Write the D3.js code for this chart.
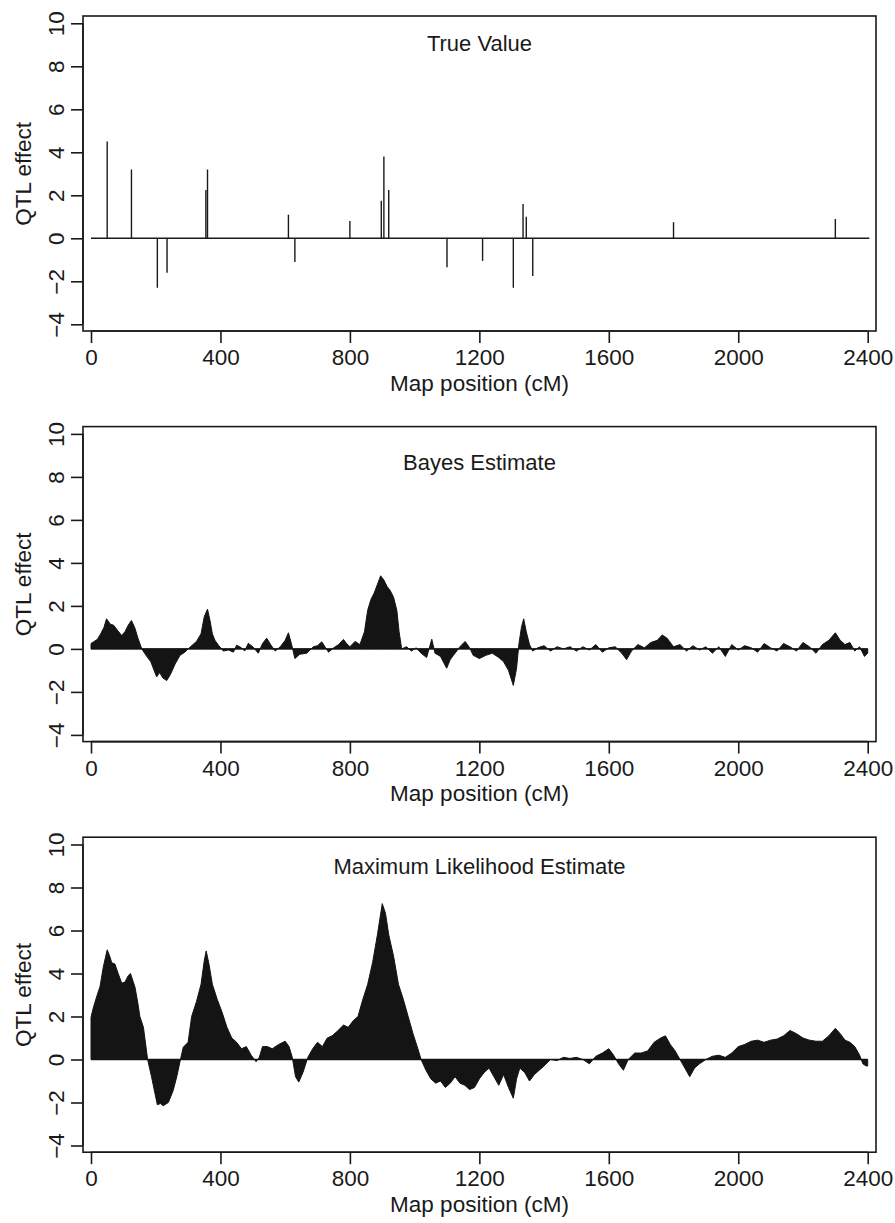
<!DOCTYPE html>
<html>
<head>
<meta charset="utf-8">
<script src="https://cdn.jsdelivr.net/npm/d3@7"></script>
<style>
  body { margin: 0; background: #fff; }
  text { font-family: "Liberation Sans", Arial, sans-serif; fill: #1a1a1a; }
</style>
</head>
<body>
<div id="chart"></div>
<script>
// tick labels
var xTicks = [0, 400, 800, 1200, 1600, 2000, 2400];
var yTicks = [-4, -2, 0, 2, 4, 6, 8, 10];

// panel titles
var titles = ["True Value", "Bayes Estimate", "Maximum Likelihood Estimate"];

// true QTL positions (cM) and effects
var qtlPos    = [50, 125, 205, 235, 355, 360, 610, 630, 800, 897, 905, 920, 1100, 1210, 1305, 1335, 1345, 1365, 1800, 2300];
var qtlEffect = [4.5, 3.2, -2.3, -1.6, 2.25, 3.2, 1.1, -1.1, 0.8, 1.75, 3.8, 2.25, -1.35, -1.05, -2.3, 1.6, 1.0, -1.75, 0.75, 0.9];

// Bayes estimate profile
var bayesPos = [0, 10, 20, 30, 40, 48, 55, 60, 70, 80, 95, 105, 115, 125, 135, 145, 157, 170, 185, 195,
  203, 212, 222, 234, 245, 260, 275, 290, 300, 315, 326, 340, 350, 360, 368, 375, 383, 395, 409, 425,
  440, 450, 465, 475, 486, 500, 517, 530, 543, 555, 569, 585, 600, 610, 620, 630, 645, 667, 687, 700,
  713, 725, 734, 750, 765, 780, 790, 800, 816, 831, 845, 855, 865, 875, 885, 895, 905, 915, 925, 935,
  945, 952, 960, 975, 990, 1005, 1020, 1037, 1053, 1063, 1080, 1099, 1110, 1120, 1140, 1156, 1170, 1181, 1200, 1220,
  1240, 1260, 1275, 1290, 1305, 1315, 1322, 1330, 1337, 1345, 1355, 1365, 1380, 1400, 1420, 1440, 1460, 1480, 1500, 1520,
  1540, 1560, 1580, 1600, 1620, 1640, 1655, 1670, 1690, 1710, 1730, 1750, 1765, 1780, 1800, 1820, 1840, 1860, 1880, 1900,
  1920, 1940, 1960, 1980, 2000, 2020, 2040, 2060, 2080, 2100, 2120, 2140, 2160, 2180, 2200, 2220, 2240, 2260, 2280, 2300,
  2315, 2330, 2345, 2360, 2375, 2390, 2400];
var bayesVal = [0.25, 0.35, 0.45, 0.7, 1.0, 1.4, 1.25, 1.15, 1.1, 0.9, 0.62, 0.8, 1.1, 1.32, 1.0, 0.5, 0, -0.3, -0.6, -1.0,
  -1.3, -1.1, -1.35, -1.47, -1.2, -0.7, -0.3, -0.15, 0, 0.2, 0.35, 0.7, 1.5, 1.85, 1.3, 0.7, 0.4, 0.15, -0.1, -0.05,
  -0.15, 0.17, 0.05, -0.1, 0.26, 0.1, -0.2, 0.25, 0.5, 0.2, -0.1, 0.1, 0.4, 0.75, 0.2, -0.45, -0.25, -0.2, 0.1, 0.15,
  0.33, 0.05, -0.15, 0.05, 0.2, 0.44, 0.25, 0.1, 0.35, 0.2, 0.8, 1.8, 2.3, 2.6, 3.0, 3.4, 3.2, 2.9, 2.7, 2.4,
  1.8, 0.8, 0, 0.1, -0.1, 0.05, -0.2, -0.4, 0.45, -0.2, -0.35, -0.9, -0.5, -0.3, 0.1, 0.35, 0.05, -0.3, -0.45, -0.3,
  -0.2, -0.4, -0.6, -1.0, -1.7, -0.9, 0.2, 1.0, 1.4, 0.8, 0.2, -0.1, 0.05, 0.15, -0.1, 0.1, 0, 0.1, -0.1, 0.1,
  -0.05, 0.2, -0.15, 0.05, 0.1, -0.2, -0.5, -0.1, 0.2, 0.05, 0.3, 0.4, 0.65, 0.5, 0.1, 0.2, -0.1, 0.15, -0.05, 0.1,
  -0.2, 0.1, -0.35, 0.2, -0.05, 0.15, 0.05, -0.15, 0.25, 0.05, -0.1, 0.25, 0.1, -0.1, 0.3, 0.1, -0.2, 0.2, 0.4, 0.75,
  0.4, 0.2, 0.3, -0.1, 0.1, -0.35, -0.2];

// maximum likelihood estimate profile
var mlPos = [0, 7, 17, 28, 38, 50, 58, 64, 74, 84, 95, 105, 115, 122, 136, 145, 151, 162, 175, 187,
  198, 205, 215, 223, 239, 254, 265, 275, 285, 300, 311, 326, 340, 350, 356, 365, 375, 390, 405, 420,
  435, 450, 465, 480, 495, 510, 520, 530, 545, 560, 580, 600, 612, 622, 632, 642, 655, 670, 685, 700,
  715, 730, 745, 760, 780, 795, 810, 825, 840, 855, 870, 885, 900, 910, 920, 935, 950, 965, 980, 995,
  1010, 1020, 1035, 1050, 1065, 1080, 1095, 1110, 1125, 1140, 1155, 1170, 1185, 1200, 1215, 1230, 1245, 1260, 1275, 1290,
  1305, 1315, 1325, 1340, 1355, 1370, 1385, 1400, 1420, 1440, 1460, 1480, 1500, 1520, 1540, 1560, 1580, 1600, 1615, 1630,
  1645, 1660, 1680, 1700, 1720, 1740, 1760, 1775, 1790, 1805, 1820, 1835, 1850, 1865, 1880, 1900, 1920, 1940, 1960, 1980,
  2000, 2020, 2040, 2060, 2080, 2100, 2120, 2140, 2160, 2180, 2200, 2220, 2240, 2260, 2280, 2300, 2315, 2330, 2345, 2360,
  2375, 2385, 2395, 2400];
var mlVal = [1.96, 2.4, 2.9, 3.4, 4.3, 5.1, 4.8, 4.5, 4.44, 4.0, 3.55, 3.6, 3.9, 4.0, 3.36, 2.6, 2.0, 1.5, 0, -0.8,
  -1.6, -2.1, -2.05, -2.15, -2.0, -1.44, -0.8, -0.1, 0.57, 0.8, 2.0, 2.7, 3.5, 4.6, 5.05, 4.4, 3.5, 2.8, 2.2, 1.5,
  1.0, 0.8, 0.5, 0.6, 0.2, -0.1, 0.1, 0.6, 0.6, 0.5, 0.7, 0.85, 0.6, 0.1, -0.8, -1.05, -0.6, 0.1, 0.5, 0.8,
  0.6, 1.0, 1.1, 1.3, 1.6, 1.5, 1.8, 2.0, 2.8, 3.5, 4.5, 5.8, 7.25, 6.8, 5.8, 4.8, 3.5, 2.8, 2.0, 1.2,
  0.5, 0, -0.5, -0.9, -1.1, -1.0, -1.3, -1.1, -0.8, -1.1, -1.2, -1.4, -1.3, -0.9, -0.6, -0.4, -0.8, -1.2, -0.7, -1.3,
  -1.8, -0.9, -0.4, -0.6, -1.0, -0.7, -0.5, -0.3, 0, -0.05, 0.1, 0.05, 0.1, 0, -0.2, 0.15, 0.3, 0.5, 0.2, -0.2,
  -0.5, 0, 0.3, 0.3, 0.4, 0.8, 1.0, 1.1, 0.7, 0.4, 0, -0.4, -0.8, -0.4, -0.2, 0, 0.15, 0.2, 0.1, 0.3,
  0.6, 0.7, 0.85, 0.9, 0.8, 0.9, 0.95, 1.1, 1.35, 1.2, 1.0, 0.9, 0.85, 0.85, 1.1, 1.45, 1.2, 0.9, 0.8, 0.6,
  0.2, -0.2, -0.3, -0.3];

var W = 895, H = 1223;
var boxLeft = 83, boxRight = 876, boxH = 315, panelStep = 410.6;
var titleDy = [35, 43, 37];

var svg = d3.select("#chart").append("svg")
    .attr("width", W)
    .attr("height", H);

var x = d3.scaleLinear().domain([0, 2400]).range([91, 867.7]);
var y = d3.scaleLinear().domain([-4, 10]).range([308.3, 7.3]);

function drawPanel(i) {
  var g = svg.append("g")
      .attr("transform", "translate(0," + (16 + i * panelStep) + ")");

  // plot contents
  if (i === 0) {
    g.append("line")
      .attr("x1", x(0)).attr("x2", x(2405))
      .attr("y1", y(0)).attr("y2", y(0))
      .attr("stroke", "#1a1a1a").attr("stroke-width", 1.4);
    g.selectAll(".spike")
      .data(qtlPos)
      .enter().append("line")
        .attr("x1", function (d) { return x(d); })
        .attr("x2", function (d) { return x(d); })
        .attr("y1", y(0))
        .attr("y2", function (d, j) { return y(qtlEffect[j]); })
        .attr("stroke", "#1a1a1a")
        .attr("stroke-width", 1.4);
  } else {
    var pos = i === 1 ? bayesPos : mlPos;
    var val = i === 1 ? bayesVal : mlVal;
    var pts = pos.map(function (p, j) { return [p, val[j]]; });
    var area = d3.area()
      .x(function (d) { return x(d[0]); })
      .y0(y(0))
      .y1(function (d) { return y(d[1]); });
    g.append("path")
      .datum(pts)
      .attr("d", area)
      .attr("fill", "#141414")
      .attr("stroke", "#141414")
      .attr("stroke-width", 1)
      .attr("stroke-linejoin", "round");
    g.append("line")
      .attr("x1", x(0)).attr("x2", x(2400))
      .attr("y1", y(0)).attr("y2", y(0))
      .attr("stroke", "#141414").attr("stroke-width", 1.4);
  }

  // frame
  g.append("rect")
    .attr("x", boxLeft).attr("y", 0)
    .attr("width", boxRight - boxLeft).attr("height", boxH)
    .attr("fill", "none")
    .attr("stroke", "#1a1a1a")
    .attr("stroke-width", 1.6);

  // x axis
  var xa = g.append("g")
    .attr("transform", "translate(0," + boxH + ")")
    .call(d3.axisBottom(x).tickValues(xTicks).tickSize(12).tickPadding(6).tickFormat(d3.format("d")));
  xa.select(".domain").attr("stroke", "#1a1a1a").attr("stroke-width", 1.6)
    .attr("d", "M" + x(0) + ",0H" + x(2400));
  xa.selectAll(".tick line").attr("stroke", "#1a1a1a").attr("stroke-width", 1.6);
  xa.selectAll(".tick text").style("font-size", "22.5px");

  // y axis
  var ya = g.append("g")
    .attr("transform", "translate(" + boxLeft + ",0)")
    .call(d3.axisLeft(y).tickValues(yTicks).tickSize(12).tickFormat(function (d) { return d < 0 ? "\u2212" + (-d) : d; }));
  ya.select(".domain").attr("stroke", "#1a1a1a").attr("stroke-width", 1.6)
    .attr("d", "M0," + y(-4) + "V" + y(10));
  ya.selectAll(".tick line").attr("stroke", "#1a1a1a").attr("stroke-width", 1.6);
  ya.selectAll(".tick text")
    .attr("x", null).attr("dy", null)
    .attr("transform", "translate(-19,0) rotate(-90)")
    .attr("text-anchor", "middle")
    .style("font-size", "22.5px");

  // labels
  g.append("text")
    .attr("transform", "translate(31," + y(3) + ") rotate(-90)")
    .attr("text-anchor", "middle")
    .style("font-size", "22.5px")
    .text("QTL effect");

  g.append("text")
    .attr("x", (boxLeft + boxRight) / 2)
    .attr("y", boxH + 59.5)
    .attr("text-anchor", "middle")
    .style("font-size", "22.5px")
    .text("Map position (cM)");

  g.append("text")
    .attr("x", (boxLeft + boxRight) / 2)
    .attr("y", titleDy[i])
    .attr("text-anchor", "middle")
    .style("font-size", "22px")
    .text(titles[i]);
}

for (var i = 0; i < 3; i++) drawPanel(i);
</script>
</body>
</html>
